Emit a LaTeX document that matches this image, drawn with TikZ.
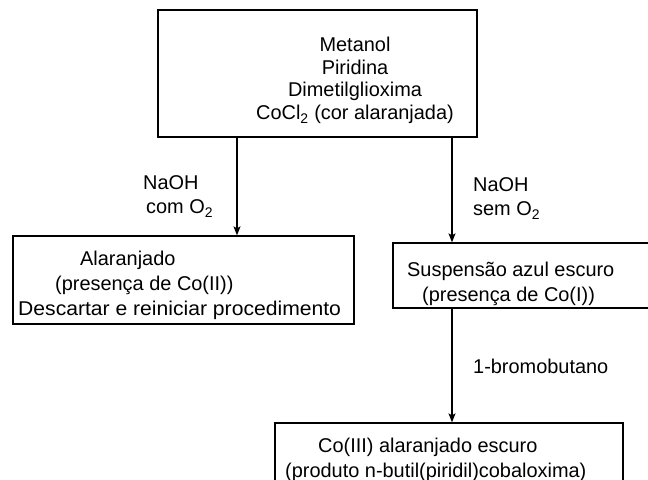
\documentclass[tikz,border=0pt]{standalone}
\usepackage{fontspec}
\setmainfont{Liberation Sans}
\usetikzlibrary{arrows.meta}
\begin{document}
\begin{tikzpicture}[x=1bp,y=-1bp,
  box/.style={draw,line width=1.3bp,rectangle,inner sep=0pt},
  txt/.style={inner sep=0pt,font=\fontsize{20}{24}\selectfont},
  arr/.style={line width=1.2bp,-{Stealth[length=9bp,width=7bp,inset=2bp]}}]
\useasboundingbox (0,0) rectangle (648,480);
\clip (0,0) rectangle (648,480);
% boxes
\node[box,minimum width=319bp,minimum height=127bp] (top) at (317.5,73.5) {};
\node[box,minimum width=341bp,minimum height=88bp] (lbox) at (183.5,280) {};
\node[box,minimum width=287bp,minimum height=65bp] (rbox) at (536.5,275.5) {};
\node[box,minimum width=348bp,minimum height=90bp] (bbox) at (449,468) {};
% top text
\node[txt,anchor=base] (t1) at (355,52) {Metanol};
\node[txt,anchor=base] (t2) at (355,75) {Piridina};
\node[txt,anchor=base] (t3) at (355,97) {Dimetilglioxima};
\node[txt,anchor=base] (t4) at (355,120) {CoCl\textsubscript{2} (cor alaranjada)};
% left box text
\node[txt,anchor=base west] (l1) at (80,265) {Alaranjado};
\node[txt,anchor=base west] (l2) at (55,290) {(presença de Co(II))};
\node[txt,anchor=base west] (l3) at (18,315) {\scalebox{1.06}[1]{Descartar e reiniciar procedimento}};
% right box text
\node[txt,anchor=base west] (r1) at (407,276) {Suspensão azul escuro};
\node[txt,anchor=base west] (r2) at (422,301) {(presença de Co(I))};
% bottom box text
\node[txt,anchor=base west] (b1) at (318,452) {Co(III) alaranjado escuro};
\node[txt,anchor=base west] (b2) at (285,477) {(produto n-butil(piridil)cobaloxima)};
% arrow labels
\node[txt,anchor=base west] (a1) at (143,190) {NaOH};
\node[txt,anchor=base west] (a2) at (146,214) {com O\textsubscript{2}};
\node[txt,anchor=base west] (a3) at (473,192) {NaOH};
\node[txt,anchor=base west] (a4) at (473,216) {sem O\textsubscript{2}};
\node[txt,anchor=base west] (a5) at (473,373) {1-bromobutano};
% connectors
\coordinate (s1) at (237,137);
\coordinate (s2) at (452,137);
\coordinate (s3) at (452,308);
\draw[arr] (s1) -- (s1 |- lbox.north);
\draw[arr] (s2) -- (s2 |- rbox.north);
\draw[arr] (s3) -- (s3 |- bbox.north);
\end{tikzpicture}
\end{document}
